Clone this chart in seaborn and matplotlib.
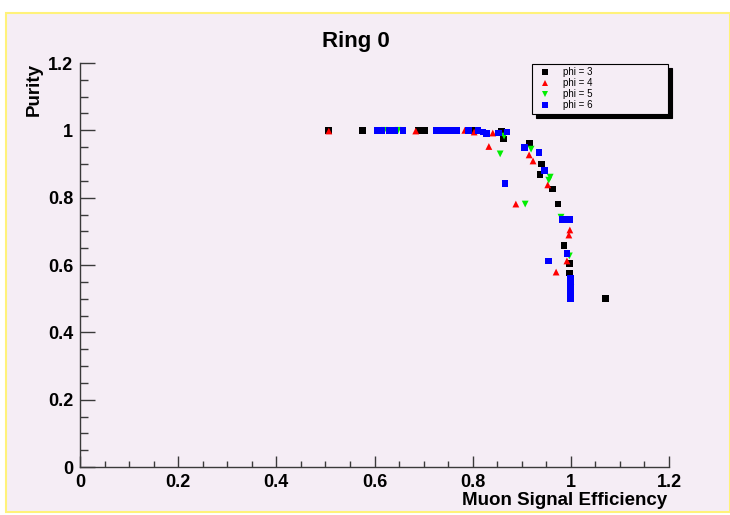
import numpy as np
import pandas as pd
import matplotlib
matplotlib.use("Agg")
import matplotlib.pyplot as plt
from matplotlib.patches import Rectangle
from matplotlib.ticker import MultipleLocator
import seaborn as sns

# Purity vs. muon signal efficiency for ring 0, one series per phi sector
phi3_eff = [0.507, 0.575, 0.689, 0.703, 0.800, 0.858, 0.862, 0.915, 0.940, 0.937,
            0.962, 0.974, 0.986, 0.997, 0.998, 1.000, 1.000, 1.070]
phi3_pur = [1.000, 1.000, 1.000, 1.000, 1.000, 0.998, 0.974, 0.962, 0.900, 0.870,
            0.826, 0.781, 0.657, 0.605, 0.576, 0.550, 0.520, 0.500]

phi4_eff = [0.507, 0.684, 0.784, 0.803, 0.841, 0.833, 0.888, 0.915, 0.923, 0.953,
            0.998, 0.996, 0.992, 0.970]
phi4_pur = [0.998, 0.998, 1.000, 0.995, 0.992, 0.952, 0.781, 0.927, 0.909, 0.838,
            0.704, 0.689, 0.612, 0.579]

phi5_eff = [0.620, 0.648, 0.864, 0.856, 0.907, 0.919, 0.958, 0.955, 0.980, 0.997, 1.000]
phi5_pur = [1.000, 1.000, 0.983, 0.930, 0.781, 0.944, 0.861, 0.852, 0.742, 0.627, 0.532]

phi6_eff = [0.605, 0.615, 0.630, 0.640, 0.658, 0.727, 0.737, 0.748, 0.758, 0.768,
            0.791, 0.811, 0.821, 0.829, 0.852, 0.870, 0.866, 0.905, 0.935, 0.947,
            0.983, 0.998, 0.992, 0.955, 1.000, 1.000, 1.000, 1.000]
phi6_pur = [1.000, 1.000, 1.000, 1.000, 1.000, 1.000, 1.000, 1.000, 1.000, 1.000,
            1.000, 1.000, 0.995, 0.990, 0.992, 0.995, 0.843, 0.950, 0.933, 0.880,
            0.736, 0.736, 0.635, 0.612, 0.560, 0.540, 0.520, 0.500]

series_labels = ["phi = 3", "phi = 4", "phi = 5", "phi = 6"]
series_colors = ["#000000", "#ff0000", "#00ee00", "#0000ff"]
series_markers = ["s", "^", "v", "s"]

x_ticks = [0, 0.2, 0.4, 0.6, 0.8, 1.0, 1.2]
x_tick_labels = ["0", "0.2", "0.4", "0.6", "0.8", "1", "1.2"]
y_ticks = [0, 0.2, 0.4, 0.6, 0.8, 1.0, 1.2]
y_tick_labels = ["0", "0.2", "0.4", "0.6", "0.8", "1", "1.2"]

frames = []
for lab, ex, pu in zip(series_labels,
                       [phi3_eff, phi4_eff, phi5_eff, phi6_eff],
                       [phi3_pur, phi4_pur, phi5_pur, phi6_pur]):
    frames.append(pd.DataFrame({"eff": ex, "purity": pu, "series": lab}))
df = pd.concat(frames, ignore_index=True)

sns.set_theme(style="white")
plt.rcParams["font.family"] = ["Liberation Sans", "DejaVu Sans"]
plt.rcParams["text.color"] = "black"

bg = "#f5edf5"
axis_col = "#3a3a3a"

fig = plt.figure(figsize=(7.30, 5.15), dpi=100)
fig.patch.set_facecolor("white")
fig.patches.append(Rectangle((6 / 730, 3 / 515), 1 - 6 / 730, (512 - 13) / 515,
                             transform=fig.transFigure, facecolor=bg,
                             edgecolor="#fff27a", linewidth=1.5, zorder=-10))

ax = fig.add_axes([80 / 730, (515 - 467) / 515, 589 / 730, 404 / 515])
ax.set_zorder(1)
ax.set_facecolor(bg)

sns.scatterplot(data=df, x="eff", y="purity", hue="series", style="series",
                palette=dict(zip(series_labels, series_colors)),
                markers=dict(zip(series_labels, series_markers)),
                hue_order=series_labels, style_order=series_labels,
                s=24, linewidth=0, ax=ax, zorder=3)

ax.set_xlim(0, 1.2)
ax.set_ylim(0, 1.2)

for side in ["top", "right"]:
    ax.spines[side].set_visible(False)
for side in ["left", "bottom"]:
    ax.spines[side].set_color(axis_col)
    ax.spines[side].set_linewidth(1.0)

ax.set_xticks(x_ticks)
ax.set_xticklabels(x_tick_labels)
ax.set_yticks(y_ticks)
ax.set_yticklabels(y_tick_labels)
ax.xaxis.set_minor_locator(MultipleLocator(0.05))
ax.yaxis.set_minor_locator(MultipleLocator(0.05))

ax.tick_params(axis="x", which="major", direction="in", length=8, width=1,
               color=axis_col, pad=5, labelsize=13)
ax.tick_params(axis="x", which="minor", direction="in", length=4, width=1,
               color=axis_col)
ax.tick_params(axis="y", which="major", direction="in", length=11, width=1,
               color=axis_col, pad=5, labelsize=13)
ax.tick_params(axis="y", which="minor", direction="in", length=6, width=1,
               color=axis_col)
ax.tick_params(bottom=True, left=True, which="both")
for lbl in ax.get_xticklabels() + ax.get_yticklabels():
    lbl.set_fontweight("bold")
    lbl.set_color("black")

ax.set_xlabel("Muon Signal Efficiency", fontsize=13.5, fontweight="bold",
              loc="right", color="black")
ax.xaxis.set_label_coords(0.9966, -0.062)
ax.set_ylabel("Purity", fontsize=13.5, fontweight="bold", loc="top",
              color="black")
ax.yaxis.set_label_coords(-0.063, 1.0)

fig.text(356 / 730, 1 - 42 / 515, "Ring 0", ha="center", va="center",
         fontsize=16, fontweight="bold", color="black")

leg = ax.legend(loc="upper left",
                bbox_to_anchor=(532 / 730, 1 - 64 / 515, 136 / 730, 0.0),
                bbox_transform=fig.transFigure, mode="expand",
                frameon=True, fancybox=False, fontsize=7,
                labelspacing=0.1, borderpad=0.35, handlelength=2.0,
                handletextpad=0.8, borderaxespad=0,
                shadow={"ox": 3, "oy": -3, "color": "black", "alpha": 1},
                title=None, markerscale=0.9)
leg.get_frame().set_edgecolor("black")
leg.get_frame().set_linewidth(0.8)
leg.get_frame().set_facecolor(bg)

fig.savefig("out.png", dpi=100, facecolor=fig.get_facecolor())
